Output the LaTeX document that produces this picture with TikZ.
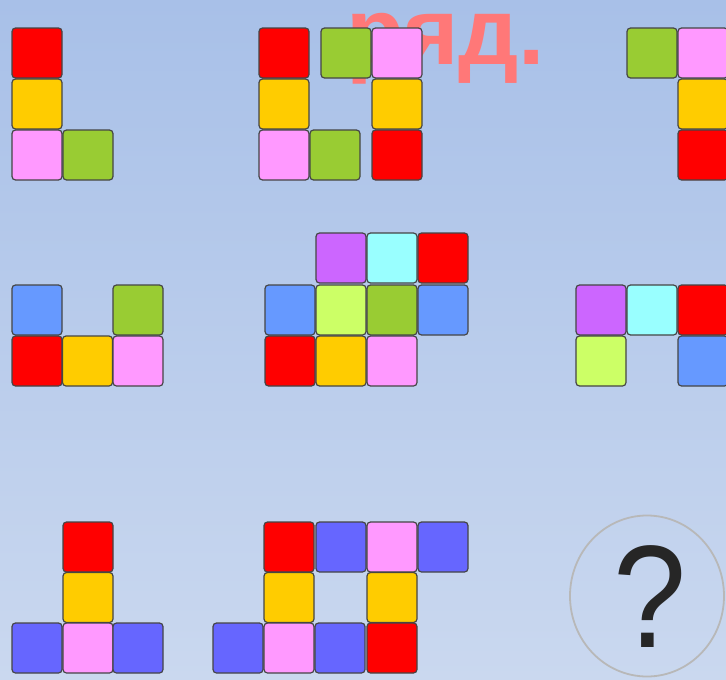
\documentclass[tikz,border=0pt]{standalone}
\usepackage{fontspec}
\setmainfont{Liberation Sans}
\usetikzlibrary{shapes.geometric}
\definecolor{bgT}{HTML}{A8C0E8}
\definecolor{bgB}{HTML}{CAD8EF}
\definecolor{cR}{HTML}{FF0000}
\definecolor{cY}{HTML}{FFCC00}
\definecolor{cP}{HTML}{FF99FF}
\definecolor{cG}{HTML}{99CC33}
\definecolor{cB}{HTML}{6699FF}
\definecolor{cV}{HTML}{CC66FF}
\definecolor{cC}{HTML}{99FFFF}
\definecolor{cL}{HTML}{CCFF66}
\definecolor{cI}{HTML}{6666FF}
\definecolor{cEdge}{HTML}{454545}
\definecolor{cTitle}{HTML}{FF7878}
\definecolor{cRing}{HTML}{B8B8B8}
\tikzset{
  cell/.style={draw=cEdge, line width=1.2pt, rounded corners=3.5pt, anchor=north west,
    minimum width=50pt, minimum height=50pt, inner sep=0pt, outer sep=0pt},
}
\begin{document}
\begin{tikzpicture}[x=1pt,y=-1pt]
\useasboundingbox (0,0) rectangle (726,680);
\shade[top color=bgT, bottom color=bgB] (0,0) rectangle (726,680);
% title (behind the squares)
\node[anchor=base west, inner sep=0pt, text=cTitle, font=\bfseries\fontsize{95}{98}\selectfont] (title) at (346,64) {ряд.};
% row 1, figure 1
\node[cell, fill=cR] (a1) at (12,28) {};
\node[cell, fill=cY] (a2) at (12,79) {};
\node[cell, fill=cP] (a3) at (12,130) {};
\node[cell, fill=cG] (a4) at (63,130) {};
% row 1, figure 2
\node[cell, fill=cR] (b1) at (259,28) {};
\node[cell, fill=cG] (b2) at (321,28) {};
\node[cell, fill=cP] (b3) at (372,28) {};
\node[cell, fill=cY] (b4) at (259,79) {};
\node[cell, fill=cY] (b5) at (372,79) {};
\node[cell, fill=cP] (b6) at (259,130) {};
\node[cell, fill=cG] (b7) at (310,130) {};
\node[cell, fill=cR] (b8) at (372,130) {};
% row 1, figure 3
\node[cell, fill=cG] (c1) at (627,28) {};
\node[cell, fill=cP] (c2) at (678,28) {};
\node[cell, fill=cY] (c3) at (678,79) {};
\node[cell, fill=cR] (c4) at (678,130) {};
% row 2, figure 4
\node[cell, fill=cB] (d1) at (12,285) {};
\node[cell, fill=cG] (d2) at (113,285) {};
\node[cell, fill=cR] (d3) at (12,336) {};
\node[cell, fill=cY] (d4) at (62.5,336) {};
\node[cell, fill=cP] (d5) at (113,336) {};
% row 2, figure 5
\node[cell, fill=cV] (e1) at (316,233) {};
\node[cell, fill=cC] (e2) at (367,233) {};
\node[cell, fill=cR] (e3) at (418,233) {};
\node[cell, fill=cB] (e4) at (265,285) {};
\node[cell, fill=cL] (e5) at (316,285) {};
\node[cell, fill=cG] (e6) at (367,285) {};
\node[cell, fill=cB] (e7) at (418,285) {};
\node[cell, fill=cR] (e8) at (265,336) {};
\node[cell, fill=cY] (e9) at (316,336) {};
\node[cell, fill=cP] (e10) at (367,336) {};
% row 2, figure 6
\node[cell, fill=cV] (f1) at (576,285) {};
\node[cell, fill=cC] (f2) at (627,285) {};
\node[cell, fill=cR] (f3) at (678,285) {};
\node[cell, fill=cL] (f4) at (576,336) {};
\node[cell, fill=cB] (f5) at (678,336) {};
% row 3, figure 7
\node[cell, fill=cR] (g1) at (63,522) {};
\node[cell, fill=cY] (g2) at (63,572.5) {};
\node[cell, fill=cI] (g3) at (12,623) {};
\node[cell, fill=cP] (g4) at (63,623) {};
\node[cell, fill=cI] (g5) at (113,623) {};
% row 3, figure 8
\node[cell, fill=cR] (h1) at (264,522) {};
\node[cell, fill=cI] (h2) at (316,522) {};
\node[cell, fill=cP] (h3) at (367,522) {};
\node[cell, fill=cI] (h4) at (418,522) {};
\node[cell, fill=cY] (h5) at (264,572.5) {};
\node[cell, fill=cY] (h6) at (367,572.5) {};
\node[cell, fill=cI] (h7) at (213,623) {};
\node[cell, fill=cP] (h8) at (264,623) {};
\node[cell, fill=cI] (h9) at (315,623) {};
\node[cell, fill=cR] (h10) at (367,623) {};
% question
\node[ellipse, draw=cRing, line width=1.8pt, minimum width=154pt, minimum height=161pt, inner sep=0pt] (q) at (647,596) {};
\node[inner sep=0pt, text={black!85}, font=\fontsize{146}{150}\selectfont] (qm) at (650,597) {\scalebox{0.9}[1]{?}};
\end{tikzpicture}
\end{document}
